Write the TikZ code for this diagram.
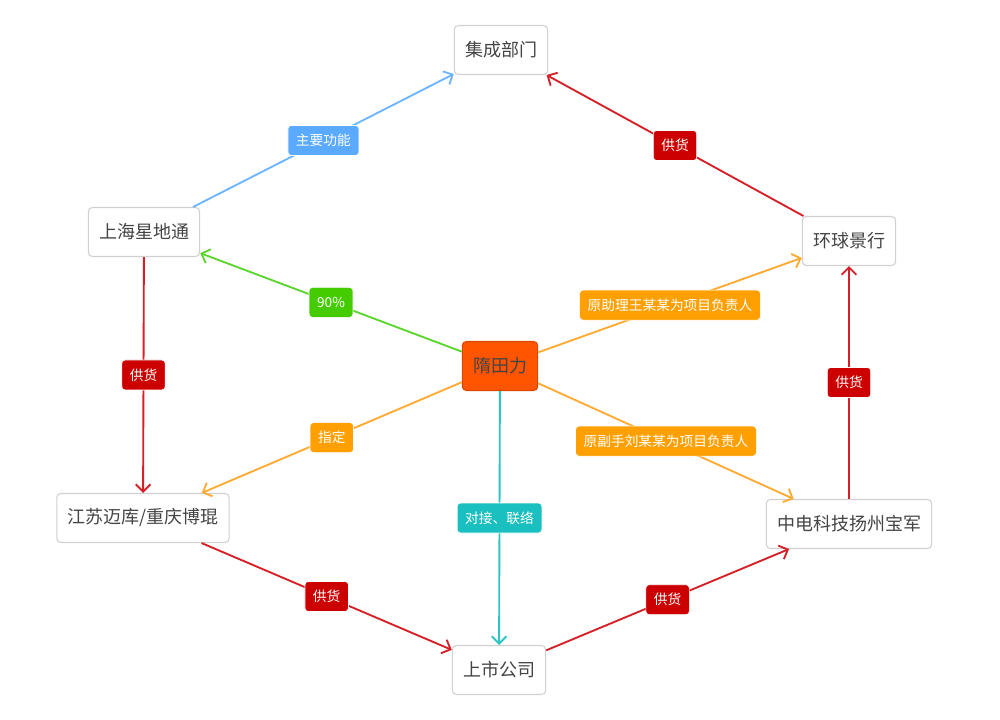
\documentclass[tikz,border=0pt]{standalone}
\usepackage{fontspec}
\setmainfont{Noto Sans CJK SC}
\usepackage{tikz}
\usetikzlibrary{arrows.meta, positioning}

\definecolor{boxtext}{HTML}{444444}
\definecolor{boxline}{HTML}{D0D0D0}
\definecolor{centerfill}{HTML}{FF5500}
\definecolor{lineblue}{HTML}{6EB5FF}
\definecolor{tagblue}{HTML}{5AAAFF}
\definecolor{linered}{HTML}{D42026}
\definecolor{tagred}{HTML}{CC0000}
\definecolor{linegreen}{HTML}{5CD62E}
\definecolor{taggreen}{HTML}{44CC00}
\definecolor{lineorange}{HTML}{FFAA33}
\definecolor{tagorange}{HTML}{FFA000}
\definecolor{lineteal}{HTML}{2EC4C4}
\definecolor{tagteal}{HTML}{1ABFBF}

\begin{document}
\begin{tikzpicture}[x=0.75pt,y=-0.75pt,->,>={Straight Barb[length=5.5pt,width=11pt]},line width=1.4pt]
	\tikzset{company/.style={draw=boxline,line width=0.8pt,rounded corners=3pt,fill=white,text=boxtext,
		minimum height=36.75pt,inner xsep=8pt,font=\fontsize{13.5}{16}\selectfont},
		tag/.style={draw=white,line width=0.5pt,rounded corners=2.5pt,text=white,minimum height=22.5pt,inner xsep=6pt,
		inner ysep=0pt,font=\fontsize{10.3}{12}\selectfont}}
	\useasboundingbox (0,0) rectangle (1000,720);
	\node[company] (top) at (501,50) {集成部门};
	\node[company] (sh) at (144,232) {上海星地通};
	\node[company] (hq) at (849,241) {环球景行};
	\node[company,fill=centerfill,draw=centerfill!85!black] (sui) at (500,366) {隋田力};
	\node[company] (js) at (143,518) {江苏迈库/重庆博琨};
	\node[company] (zd) at (849,524) {中电科技扬州宝军};
	\node[company] (ss) at (499,670) {上市公司};
	\path
		(sh)

			edge[lineblue] node[tag,fill=tagblue] {主要功能} (top)
			edge[linered] node[tag,fill=tagred] {供货} (js)
		(hq)

			edge[linered] node[tag,fill=tagred] {供货} (top)
		(sui)

			edge[linegreen] node[tag,fill=taggreen] {90\%} (sh)
			edge[lineorange] node[tag,fill=tagorange] {原助理王某某为项目负责人} (hq)
			edge[lineorange] node[tag,fill=tagorange] {指定} (js)
			edge[lineorange] node[tag,fill=tagorange] {原副手刘某某为项目负责人} (zd)
			edge[lineteal] node[tag,fill=tagteal] {对接、联络} (ss)
		(zd)

			edge[linered] node[tag,fill=tagred] {供货} (hq)
		(js)

			edge[linered] node[tag,fill=tagred] {供货} (ss)
		(ss)

			edge[linered] node[tag,fill=tagred] {供货} (zd);
\end{tikzpicture}
\end{document}
